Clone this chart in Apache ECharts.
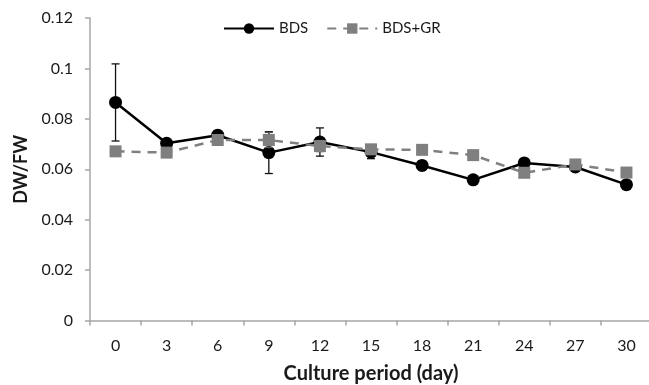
<!DOCTYPE html>
<html>
<head>
<meta charset="utf-8">
<script src="https://cdn.jsdelivr.net/npm/echarts@6/dist/echarts.min.js"></script>
<style>
  html, body { margin: 0; padding: 0; background: #ffffff; }
  #chart { width: 649px; height: 385px; }
</style>
</head>
<body>
<div id="chart"></div>
<script>
// Culture period (days) on the x axis
const days = ['0', '3', '6', '9', '12', '15', '18', '21', '24', '27', '30'];

// Dry weight / fresh weight ratio, mean values
const bds   = [0.0865, 0.0703, 0.0735, 0.0666, 0.0708, 0.0668, 0.0615, 0.0558, 0.0625, 0.0609, 0.0539];
const bdsGr = [0.0671, 0.0666, 0.0716, 0.0716, 0.0692, 0.0679, 0.0677, 0.0656, 0.0586, 0.0619, 0.0587];

// Standard errors
const bdsErr   = [0.0153, 0.0010, 0.0010, 0.0083, 0.0056, 0.0026, 0.0018, 0.0015, 0.0015, 0.0012, 0.0012];
const bdsGrErr = [0.0010, 0.0010, 0.0012, 0.0030, 0.0022, 0.0012, 0.0012, 0.0010, 0.0012, 0.0010, 0.0012];

const yTicks = { min: 0, max: 0.12, interval: 0.02 };

const font = 'Lato, "Open Sans", sans-serif';
const axisGray = '#a6a6a6';
const textColor = '#1a1a1a';

function errorSeries(name, means, errs, color, z) {
  return {
    type: 'custom',
    name: name + ' error',
    z: z,
    silent: true,
    data: means.map((m, i) => [i, m - errs[i], m + errs[i]]),
    renderItem: function (params, api) {
      const lo = api.coord([api.value(0), api.value(1)]);
      const hi = api.coord([api.value(0), api.value(2)]);
      const half = 4;
      const style = { stroke: color, lineWidth: 1.3 };
      return {
        type: 'group',
        children: [
          { type: 'line', shape: { x1: lo[0], y1: lo[1], x2: hi[0], y2: hi[1] }, style: style },
          { type: 'line', shape: { x1: lo[0] - half, y1: lo[1], x2: lo[0] + half, y2: lo[1] }, style: style },
          { type: 'line', shape: { x1: hi[0] - half, y1: hi[1], x2: hi[0] + half, y2: hi[1] }, style: style }
        ]
      };
    }
  };
}

const chart = echarts.init(document.getElementById('chart'), null, { renderer: 'canvas' });

chart.setOption({
  backgroundColor: '#ffffff',
  animation: false,
  grid: { left: 90, top: 18, width: 562, height: 302.5, containLabel: false, outerBoundsMode: 'none' },
  legend: {
    top: 16,
    left: 218,
    itemWidth: 50,
    itemHeight: 13,
    itemGap: 18,
    textStyle: { fontFamily: font, fontSize: 15, color: textColor },
    data: ['BDS', 'BDS+GR']
  },
  xAxis: {
    type: 'category',
    data: days,
    boundaryGap: true,
    name: 'Culture period (day)',
    nameLocation: 'middle',
    nameGap: 43,
    nameTextStyle: { fontFamily: font, fontSize: 20, fontWeight: 'bold', color: textColor },
    axisLine: { lineStyle: { color: axisGray, width: 1.5 } },
    axisTick: { show: true, inside: false, length: 5, lineStyle: { color: axisGray, width: 1.5 } },
    axisLabel: { margin: 17, fontFamily: font, fontSize: 16, color: textColor },
    splitLine: { show: false }
  },
  yAxis: {
    type: 'value',
    min: yTicks.min,
    max: yTicks.max,
    interval: yTicks.interval,
    name: 'DW/FW',
    nameLocation: 'middle',
    nameGap: 60,
    nameRotate: 90,
    nameTextStyle: { fontFamily: font, fontSize: 18, fontWeight: 'bold', color: textColor },
    axisLine: { show: true, lineStyle: { color: axisGray, width: 1.5 } },
    axisTick: { show: true, inside: false, length: 5, lineStyle: { color: axisGray, width: 1.5 } },
    axisLabel: { margin: 17, fontFamily: font, fontSize: 16, color: textColor },
    splitLine: { show: false }
  },
  series: [
    errorSeries('BDS', bds, bdsErr, '#111111', 2),
    {
      name: 'BDS',
      type: 'line',
      data: bds,
      z: 3,
      symbol: 'circle',
      symbolSize: 13,
      lineStyle: { color: '#000000', width: 2.5 },
      itemStyle: { color: '#000000' }
    },
    errorSeries('BDS+GR', bdsGr, bdsGrErr, '#555555', 4),
    {
      name: 'BDS+GR',
      type: 'line',
      data: bdsGr,
      z: 5,
      symbol: 'rect',
      symbolSize: 12,
      lineStyle: { color: '#808080', width: 2.5, type: [9, 7] },
      itemStyle: { color: '#7f7f7f' }
    }
  ]
});
</script>
</body>
</html>
